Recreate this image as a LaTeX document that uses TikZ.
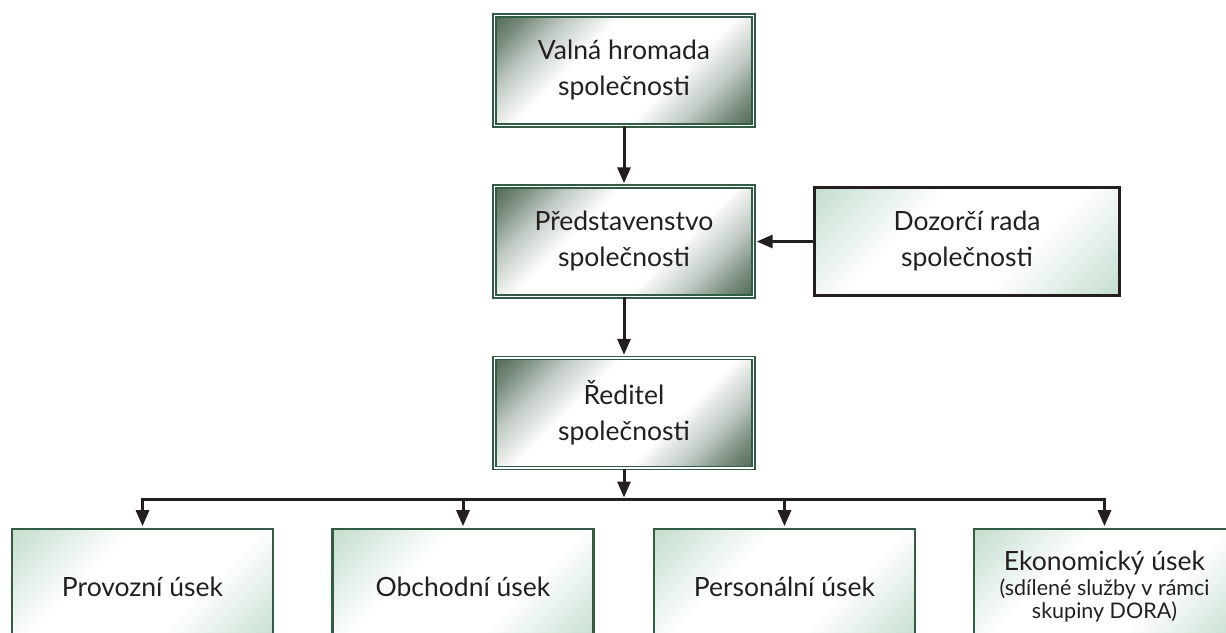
\documentclass[tikz,border=0pt]{standalone}
\usepackage{fontspec}
\setmainfont{Lato}
\usetikzlibrary{arrows.meta}
\definecolor{bgreen}{RGB}{50,92,68}
\definecolor{gdark}{RGB}{78,104,86}
\definecolor{glight}{RGB}{196,221,206}
\definecolor{ink}{RGB}{35,31,32}
\pgfdeclarehorizontalshading{darkdiag}{100bp}{color(0bp)=(gdark); color(32.3bp)=(gdark); color(35.5bp)=(gdark!75!white); color(39.5bp)=(gdark!35!white); color(44.5bp)=(white); color(55.5bp)=(white); color(60.5bp)=(gdark!35!white); color(64.5bp)=(gdark!75!white); color(67.7bp)=(gdark); color(100bp)=(gdark)}
\pgfdeclarehorizontalshading{lightdiag}{100bp}{color(0bp)=(glight); color(32.3bp)=(glight); color(44bp)=(white); color(56bp)=(white); color(67.7bp)=(glight); color(100bp)=(glight)}
\tikzset{
  diagshade/.style n args={2}{path picture={
    \shade[shading=#1, shading angle=-45]
      ([shift={(-#2,-#2)}]path picture bounding box.center) rectangle
      ([shift={(#2,#2)}]path picture bounding box.center);}}
}
\begin{document}
\begin{tikzpicture}[x=1pt,y=-1pt,
  topbox/.style={draw=bgreen, double=white, double distance=1.6pt, line width=1.6pt,
    diagshade={darkdiag}{184.5pt}, minimum width=259pt, minimum height=110pt,
    inner sep=0pt, align=center, text=ink, font=\fontsize{26.5}{36}\selectfont},
  supbox/.style={draw=ink, line width=2.8pt, diagshade={lightdiag}{206.5pt},
    minimum width=305pt, minimum height=108pt, inner sep=0pt, align=center, text=ink,
    font=\fontsize{26.5}{36}\selectfont},
  botbox/.style={draw=bgreen, line width=2.8pt, diagshade={lightdiag}{188pt},
    minimum width=261pt, minimum height=115pt, inner sep=0pt, align=center, text=ink,
    font=\fontsize{26.5}{36}\selectfont},
  arrow/.style={draw=ink, line width=3pt, -{Triangle[length=16pt,width=13pt]}}
]
\useasboundingbox (0,0) rectangle (1226,632);
\clip (0,0) rectangle (1226,632);
\node[topbox] (vh) at (624,70.5) {Valná hromada\\společnosti};
\node[topbox] (ps) at (624,241.5) {Představenstvo\\společnosti};
\node[topbox] (rs) at (624,413) {Ředitel\\společnosti};
\node[supbox] (dr) at (967,241.5) {Dozorčí rada\\společnosti};
\node[botbox] (b1) at (142.5,586.5) {Provozní úsek};
\node[botbox] (b2) at (463,586.5) {Obchodní úsek};
\node[botbox] (b3) at (784.5,586.5) {Personální úsek};
\node[botbox, font=\fontsize{21.5}{23}\selectfont] (b4) at (1104.5,586.5)
  {{\fontsize{26.5}{28}\selectfont Ekonomický úsek}\\[2pt](sdílené služby v rámci\\skupiny DORA)};
\coordinate (bus) at (624,499);
\draw[arrow, shorten >=2.4pt] (vh.south) -- (ps.north);
\draw[arrow, shorten >=2.4pt] (ps.south) -- (rs.north);
\draw[arrow, shorten >=2.4pt] (dr.west) -- (ps.east);
\draw[arrow, shorten >=1.5pt] (rs.south) -- (bus);
\draw[arrow, shorten >=1.4pt] (bus) -| (b1.north);
\draw[arrow, shorten >=1.4pt] (bus) -| (b2.north);
\draw[arrow, shorten >=1.4pt] (bus) -| (b3.north);
\draw[arrow, shorten >=1.4pt] (bus) -| (b4.north);
\end{tikzpicture}
\end{document}
